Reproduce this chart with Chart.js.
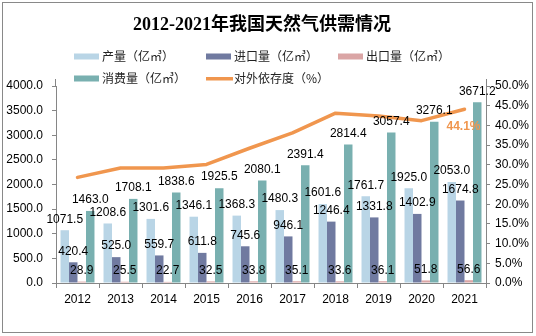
<!DOCTYPE html>
<html><head><meta charset="utf-8">
<script src="https://cdn.jsdelivr.net/npm/chart.js@4"></script>
<style>html,body{margin:0;padding:0;background:#fff;}canvas{display:block;}</style>
</head><body>
<canvas id="c" width="536" height="336"></canvas>
<script>
const years = ['2012','2013','2014','2015','2016','2017','2018','2019','2020','2021'];
const production = [1071.5,1208.6,1301.6,1346.1,1368.3,1480.3,1601.6,1761.7,1925.0,2053.0];
const imports = [420.4,525.0,559.7,611.8,745.6,946.1,1246.4,1331.8,1402.9,1674.8];
const exportsVol = [28.9,25.5,22.7,32.5,33.8,35.1,33.6,36.1,51.8,56.6];
const consumption = [1463.0,1708.1,1838.6,1925.5,2080.1,2391.4,2814.4,3057.4,3276.1,3671.2];
const dependency = [26.8,29.2,29.2,30.1,34.2,38.1,43.1,42.4,41.2,44.1];
const seriesNames = ['产量（亿㎥）','进口量（亿㎥）','出口量（亿㎥）','消费量（亿㎥）','对外依存度（%）'];
const titleText = '2012-2021年我国天然气供需情况';

const colors = ['#B9D5E6','#707AA0','#DAA5A5','#79B0B0','#F0964E'];
const axisColor = '#868686';
const numFont = "'Liberation Sans', Arial, sans-serif";
const cjkFont = "'Noto Sans CJK SC', sans-serif";

const deco = {
  id: 'deco',
  beforeDraw(chart) {
    const ctx = chart.ctx;
    ctx.save();
    ctx.fillStyle = '#fff';
    ctx.fillRect(0, 0, chart.width, chart.height);
    ctx.restore();
  },
  afterDatasetsDraw(chart) {
    const ctx = chart.ctx;
    ctx.save();
    ctx.font = '12px ' + numFont;
    ctx.fillStyle = '#000';
    ctx.textAlign = 'center';
    ctx.textBaseline = 'middle';
    for (let i = 0; i < 4; i++) {
      const meta = chart.getDatasetMeta(i);
      const data = chart.data.datasets[i].data;
      meta.data.forEach((el, j) => {
        ctx.fillText(data[j].toFixed(1), el.x, el.y - 11);
      });
    }
    const lm = chart.getDatasetMeta(4);
    const last = lm.data[lm.data.length - 1];
    ctx.font = 'bold 12px ' + numFont;
    ctx.fillStyle = colors[4];
    ctx.fillText(dependency[dependency.length - 1].toFixed(1) + '%', last.x - 1, last.y + 17);
    ctx.restore();
  },
  afterDraw(chart) {
    const ctx = chart.ctx;
    const a = chart.chartArea;
    ctx.save();
    ctx.strokeStyle = axisColor;
    ctx.lineWidth = 1;
    ctx.beginPath();
    ctx.moveTo(Math.round(a.left) - 0.5, a.top - 7);
    ctx.lineTo(Math.round(a.left) - 0.5, a.top);
    ctx.moveTo(Math.round(a.right) + 0.5, a.top - 7);
    ctx.lineTo(Math.round(a.right) + 0.5, a.top);
    ctx.stroke();
    ctx.fillStyle = '#000';
    ctx.textAlign = 'center';
    ctx.textBaseline = 'middle';
    ctx.font = "bold 18px 'Liberation Serif', 'Noto Sans CJK SC', serif";
    ctx.fillText(titleText, 262, 25);
    const pos = [[74, 56.5], [206, 56.5], [338, 56.5], [74, 78.5], [206, 78.5]];
    ctx.font = '12px ' + cjkFont;
    ctx.textAlign = 'left';
    seriesNames.forEach((n, i) => {
      const [x, y] = pos[i];
      ctx.fillStyle = colors[i];
      if (i === 4) ctx.fillRect(x, y - 1.5, 27, 3.5);
      else ctx.fillRect(x, y - 3, 25, 6);
      ctx.fillStyle = '#222';
      ctx.fillText(n, x + 28, y);
    });
    ctx.strokeStyle = '#898989';
    ctx.lineWidth = 1;
    ctx.strokeRect(2.5, 2.5, 530, 330);
    ctx.restore();
  }
};

const barDs = (i, data) => ({
  label: seriesNames[i], data, backgroundColor: colors[i], yAxisID: 'y', order: 1,
  categoryPercentage: 0.79, barPercentage: 1.0, borderWidth: 0
});

new Chart(document.getElementById('c'), {
  type: 'bar',
  data: {
    labels: years,
    datasets: [
      barDs(0, production),
      barDs(1, imports),
      barDs(2, exportsVol),
      barDs(3, consumption),
      { type: 'line', label: seriesNames[4], data: dependency, yAxisID: 'y1', order: 0,
        borderColor: colors[4], borderWidth: 3.5, pointRadius: 0, tension: 0, fill: false,
        borderCapStyle: 'round', borderJoinStyle: 'round' }
    ]
  },
  options: {
    responsive: false, animation: false, devicePixelRatio: 1,
    layout: { padding: { top: 86, left: 0, right: 0, bottom: 0 } },
    plugins: { legend: { display: false }, title: { display: false }, tooltip: { enabled: false } },
    scales: {
      x: {
        offset: true,
        grid: { display: true, drawOnChartArea: false, drawTicks: true, tickLength: 5, color: axisColor, offset: true },
        border: { display: true, color: axisColor },
        ticks: { font: { family: numFont, size: 12 }, color: '#000', padding: 4, maxRotation: 0 },
        afterFit(s) { s.height = 53; }
      },
      y: {
        position: 'left', min: 0, max: 4000,
        grid: { drawOnChartArea: false, drawTicks: true, tickLength: 4, color: axisColor },
        border: { display: true, color: axisColor },
        ticks: { stepSize: 500, callback: v => Number(v).toFixed(1), font: { family: numFont, size: 12 }, color: '#000', padding: 9 },
        afterFit(s) { s.width = 56; }
      },
      y1: {
        position: 'right', min: 0, max: 50,
        grid: { drawOnChartArea: false, drawTicks: true, tickLength: 4, color: axisColor },
        border: { display: true, color: axisColor },
        ticks: { stepSize: 5, callback: v => Number(v).toFixed(1) + '%', font: { family: numFont, size: 12 }, color: '#000', padding: 5 },
        afterFit(s) { s.width = 50; }
      }
    }
  },
  plugins: [deco]
});
</script>
</body></html>
